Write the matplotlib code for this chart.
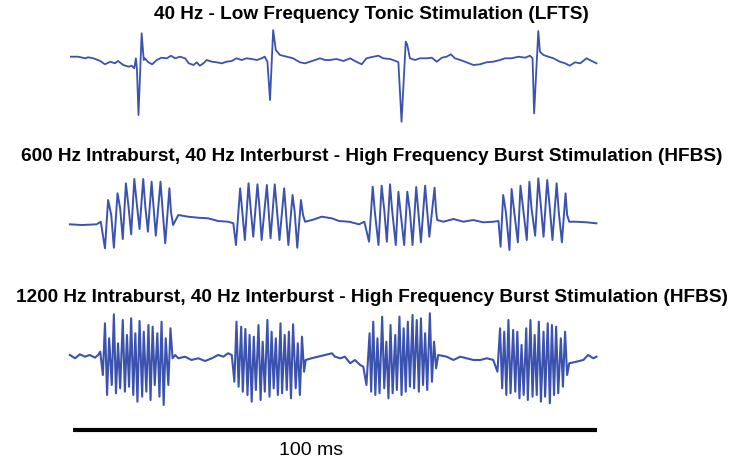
import matplotlib
matplotlib.use('Agg')
import matplotlib.pyplot as plt

plt.rcParams['font.family'] = ['Liberation Sans', 'DejaVu Sans']

# time in ms, amplitude in arbitrary units (uV)
lfts_t = [-0.4, 1.0, 2.3, 2.9, 3.9, 5.2, 6.1, 7.1, 8.0, 8.6, 9.6, 10.6, 11.2, 11.7, 12.0, 12.2, 12.5, 13.1,
          13.5, 13.7, 14.4, 15.1, 16.0, 16.9, 17.9, 18.7, 19.5, 20.4, 21.4, 22.1, 23.0, 23.6, 24.2, 24.9,
          25.5, 26.5, 27.4, 28.4, 29.3, 30.3, 31.2, 32.2, 33.1, 34.1, 35.1, 36.0, 36.6, 37.1, 37.6, 38.2,
          38.7, 39.5, 40.8, 42.0, 43.3, 44.3, 45.2, 46.2, 47.1, 48.1, 49.0, 50.3, 51.6, 52.9, 53.8, 55.1,
          56.0, 57.3, 58.3, 59.2, 60.5, 61.6, 62.1, 62.7, 63.5, 63.8, 64.3, 65.3, 66.2, 67.5, 68.5, 69.4,
          70.4, 71.3, 72.1, 72.9, 73.9, 75.1, 76.4, 77.7, 78.9, 80.2, 81.5, 82.4, 83.7, 85.0, 86.3, 87.2,
          87.7, 88.0, 88.8, 89.1, 89.8, 90.7, 91.7, 92.9, 93.9, 94.8, 95.8, 96.8, 98.0, 99.0, 99.9]
lfts_v = [13, 13, -3, 7, -3, -30, -63, -37, -53, -30, -70, -87, -77, -103, -3, -103, -570, 247,
          -20, -3, -43, -63, -20, 3, -3, 23, -3, 13, -3, -53, -70, -43, -77, -53,
          -20, -37, -43, -53, -37, -30, -3, -20, -3, -10, -20, -3, 13, -37, -420, 280,
          80, 30, 13, -3, -43, -53, -37, -20, -3, -20, -20, -10, -30, -3, -30, -63,
          -3, 13, 23, -3, -10, -30, -43, -637, 163, 130, -3, -20, -3, -3, 3, -37,
          3, 13, 37, -3, -20, -43, -70, -63, -43, -37, -20, -3, -3, 13, 3, 23,
          -3, -553, 270, 63, 30, 13, -3, -37, -53, -77, -43, -53, -3, -30, -53]

hfbs600_t = [-0.6, 1.7, 4.5, 5.3,
             6.1, 6.7, 7.3, 7.8, 8.5, 9.0, 9.5, 10.1, 10.6, 11.1, 11.7, 12.2, 12.7, 13.4, 13.8,
             14.3, 15.0, 15.4, 15.8, 16.7, 17.1, 17.6, 18.4, 18.7, 19.1,
             20.1, 22.0, 23.9, 25.8, 27.7, 29.6, 30.6,
             31.1, 31.9, 32.3, 32.8, 33.5, 33.9, 34.4, 35.2, 35.6, 36.0, 37.0, 37.3, 37.7, 38.5, 38.9,
             39.4, 40.3, 40.6, 41.1, 41.9, 42.3, 42.8, 43.5, 43.9, 44.3,
             45.6, 47.5, 49.4, 50.8, 52.7, 54.6, 55.6,
             56.5, 57.2, 57.6, 58.3, 58.9, 59.4, 59.9, 60.5, 60.9, 61.6, 62.1, 62.5, 63.2, 63.8, 64.3,
             64.8, 65.5, 65.9, 66.4, 67.2, 67.6, 68.0, 69.0, 69.3, 69.5,
             70.7, 72.6, 74.5, 76.4, 78.3, 80.2, 81.2,
             81.6, 82.1, 82.6, 83.3, 83.7, 84.2, 84.9, 85.4, 85.9, 86.6, 87.1, 87.5, 88.2, 88.8, 89.3,
             89.8, 90.5, 91.0, 91.5, 92.3, 92.7, 93.3, 94.0, 94.3, 94.7,
             96.1, 98.0, 99.9]
hfbs600_v = [-23, -30, -23, 3,
             -263, 220, 70, -257, 287, 137, -170, 387, 153, -123, 430, 170, -70, 430, 153,
             -97, 403, 137, -137, 403, 120, -213, 337, 103, -30,
             70, 53, 43, 37, 10, 3, -13,
             -230, 337, 103, -180, 387, 137, -147, 377, 137, -180, 370, 137, -163, 377, 137,
             -180, 337, 120, -230, 270, 103, -257, 220, 70, 3,
             20, 53, 37, 10, 3, -23, 3,
             -197, 353, 103, -230, 363, 120, -197, 377, 120, -230, 303, 103, -230, 303, 103,
             -230, 350, 103, -203, 363, 103, -147, 343, 103, 20,
             3, 30, 3, 20, -3, 3, 10,
             -247, 270, 103, -280, 330, 103, -203, 363, 137, -180, 403, 137, -137, 437, 153,
             -147, 420, 137, -180, 387, 103, -203, 287, 70, 3,
             3, -3, -13]

hfbs1200_t = [-0.6, 0.4, 1.3, 2.3, 3.2, 4.2, 4.8, 5.2,
              5.7, 6.1, 6.5, 6.9, 7.4, 7.8, 8.2, 8.6, 9.0, 9.5, 9.9, 10.3, 10.7, 11.1, 11.5, 11.9,
              12.3, 12.7, 13.2, 13.5, 14.0, 14.4, 14.8, 15.2, 15.6, 16.1, 16.5, 16.9, 17.3, 17.7,
              18.2, 18.6, 19.0,
              19.5, 20.1, 21.4, 22.6, 23.9, 25.2, 26.5, 27.7, 28.7, 29.6, 30.3,
              30.8, 31.2, 31.6, 32.1, 32.4, 32.9, 33.3, 33.7, 34.1, 34.5, 34.9, 35.4, 35.8, 36.2,
              36.6, 37.1, 37.5, 37.9, 38.3, 38.7, 39.1, 39.6, 39.9, 40.4, 40.8, 41.2, 41.6, 42.0,
              42.5, 42.9, 43.3, 43.7, 44.1, 44.4,
              45.5, 46.8, 48.1, 49.4, 50.0, 51.0, 51.9, 52.9, 53.8, 54.8, 55.4,
              56.0, 56.6, 56.9, 57.3, 57.7, 58.1, 58.5, 59.0, 59.4, 59.8, 60.2, 60.6, 61.0, 61.5,
              61.8, 62.3, 62.7, 63.1, 63.5, 63.9, 64.3, 64.8, 65.1, 65.6, 66.0, 66.4, 66.8, 67.2,
              67.6, 68.1, 68.5, 68.9, 69.3, 69.7,
              71.3, 72.6, 73.9, 75.1, 76.4, 77.7, 79.0, 80.2,
              81.0, 81.5, 81.9, 82.3, 82.7, 83.1, 83.5, 84.0, 84.4, 84.8, 85.2, 85.6, 86.0, 86.5,
              86.8, 87.3, 87.7, 88.1, 88.5, 88.9, 89.3, 89.8, 90.1, 90.6, 91.0, 91.4, 91.8, 92.2,
              92.6, 93.1, 93.5, 93.9, 94.3, 94.7,
              96.1, 97.4, 98.3, 99.3, 99.9]
hfbs1200_v = [20, -13, 27, 3, 20, -7, 20, 53,
              -180, 337, -380, 187, -280, 427, -363, 137, -313, 370, -347, 220, -297, 387, -380, 237,
              -447, 360, -397, 253, -347, 320, -430, 303, -280, 237, -397, 353, -480, 187,
              -280, 287, -13,
              20, -13, 3, -30, -13, -40, -13, 20, 3, 37, 20,
              -247, 353, -297, 303, -347, 280, -380, 220, -447, 203, -330, 320, -430, 153,
              -347, 370, -397, 253, -313, 187, -380, 337, -363, 220, -330, 253, -413, 327,
              -313, 137, -380, 203, -147, -30,
              -13, 3, 20, 37, 3, -13, 3, -63, -30, -80, -97,
              -280, 237, -347, 353, -380, 187, -363, 403, -313, 153, -413, 320, -363, 220,
              -330, 403, -380, 287, -347, 353, -297, 420, -313, 370, -347, 387, -280, 237,
              -330, 437, -247, 153, -113, 20,
              3, -30, 3, -13, -30, -30, -13, -30,
              -147, 287, -313, 253, -380, 370, -363, 270, -347, 253, -413, 120, -380, 287,
              -430, 370, -397, 220, -380, 353, -447, 253, -397, 337, -463, 320, -380, 303,
              -363, 187, -297, 253, -180, -63,
              -47, -30, 20, -13, 3]

titles = ['40 Hz - Low Frequency Tonic Stimulation (LFTS)',
          '600 Hz Intraburst, 40 Hz Interburst - High Frequency Burst Stimulation (HFBS)',
          '1200 Hz Intraburst, 40 Hz Interburst - High Frequency Burst Stimulation (HFBS)']
scale_ms = 100
scale_label = '100 ms'

line_color = '#3b52ae'
xlim = (-13.93, 127.1)

fig = plt.figure(figsize=(7.39, 4.63), dpi=100)

ax1 = fig.add_axes([0, 0.730, 1, 0.216])
ax1.plot(lfts_t, lfts_v, color=line_color, lw=1.3)
ax1.set_ylim(-670, 330)

ax2 = fig.add_axes([0, 0.4384, 1, 0.1944])
ax2.plot(hfbs600_t, hfbs600_v, color=line_color, lw=1.4)
ax2.set_ylim(-380, 520)

ax3 = fig.add_axes([0, 0.1145, 1, 0.2268])
ax3.plot(hfbs1200_t, hfbs1200_v, color=line_color, lw=1.5)
ax3.set_ylim(-530, 520)

# scale bar
ax4 = fig.add_axes([0, 0, 1, 0.1145])
ax4.plot([0, scale_ms], [-0.32, -0.32], color='black', lw=3.0, solid_capstyle='butt')
ax4.set_ylim(-2.5, 1.0)
ax4.text(scale_ms / 2 - 4.5, -1.7, scale_label, ha='center', va='center', fontsize=14)

for ax in [ax1, ax2, ax3, ax4]:
    ax.set_xlim(*xlim)
    ax.axis('off')
    ax.patch.set_alpha(0)

fig.text(0.503, 0.969, titles[0], ha='center', va='center', fontsize=13.7, fontweight='bold')
fig.text(0.503, 0.661, titles[1], ha='center', va='center', fontsize=13.7, fontweight='bold')
fig.text(0.503, 0.358, titles[2], ha='center', va='center', fontsize=13.7, fontweight='bold')

fig.savefig('out.png', dpi=100)
